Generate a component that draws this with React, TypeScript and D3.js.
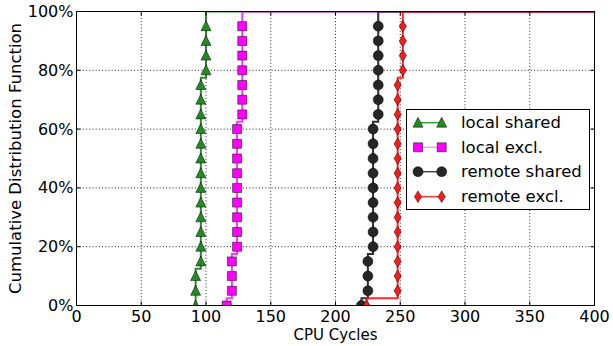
import React from 'react';
import * as d3 from 'd3';

const W = 613;
const H = 346;
const plot = { left: 76.5, right: 594.5, top: 11.5, bottom: 305.5 };

// sampled CDF levels (one marker per level)
const cdfLevels = [0, 0.05, 0.1, 0.15, 0.2, 0.25, 0.3, 0.35, 0.4, 0.45, 0.5, 0.55, 0.6, 0.65, 0.7, 0.75, 0.8, 0.85, 0.9, 0.95];

// CPU cycles at each level
const localShared = [92, 92, 92, 96, 96, 96, 96, 96, 96, 96, 96, 96, 96, 96, 96, 96, 100, 100, 100, 100];
const localExcl = [116, 120, 120, 120, 124, 124, 124, 124, 124, 124, 124, 124, 124, 128, 128, 128, 128, 128, 128, 128];
const remoteShared = [220, 225, 225, 225, 229, 229, 229, 229, 229, 229, 229, 229, 229, 233, 233, 233, 233, 233, 233, 233];
const remoteExcl = [224, 248, 248, 248, 248, 248, 248, 248, 248, 248, 248, 248, 248, 248, 248, 248, 252, 252, 252, 252];

const xTicks = [0, 50, 100, 150, 200, 250, 300, 350, 400];
const yTicks = [0, 0.2, 0.4, 0.6, 0.8, 1.0];

type Marker = 'triangle' | 'square' | 'circle' | 'diamond';

const series: { name: string; values: number[]; fill: string; line: string; legendLine: string; marker: Marker }[] = [
  { name: 'local shared', values: localShared, fill: '#228b22', line: '#1f7a1f', legendLine: '#33a033', marker: 'triangle' },
  { name: 'local excl.', values: localExcl, fill: '#ff00ff', line: '#ff22ff', legendLine: '#f59af5', marker: 'square' },
  { name: 'remote shared', values: remoteShared, fill: '#262626', line: '#1a1a1a', legendLine: '#444', marker: 'circle' },
  { name: 'remote excl.', values: remoteExcl, fill: '#ff1a1a', line: '#ff1010', legendLine: '#f04040', marker: 'diamond' },
];

function markerPath(type: Marker): string {
  switch (type) {
    case 'triangle':
      return 'M0,-5.5L5,4.5L-5,4.5Z';
    case 'square':
      return 'M-4.5,-4.5H4.5V4.5H-4.5Z';
    case 'circle':
      return 'M5,0A5,5 0 1 1 -5,0A5,5 0 1 1 5,0Z';
    default:
      return 'M0,-5.8L3.6,0L0,5.8L-3.6,0Z';
  }
}

const font = 'DejaVu Sans, sans-serif';

export default function App() {
  const x = d3.scaleLinear().domain([0, 400]).range([plot.left, plot.right]);
  const y = d3.scaleLinear().domain([0, 1]).range([plot.bottom, plot.top]);
  const line = d3.line<[number, number]>().x(d => x(d[0])).y(d => y(d[1]));

  // step path: rise to the midpoint between samples, then move across
  const stepPoints = (vals: number[]): [number, number][] => {
    const pts: [number, number][] = [[vals[0], cdfLevels[0]]];
    for (let i = 1; i < vals.length; i++) {
      const mid = (cdfLevels[i - 1] + cdfLevels[i]) / 2;
      if (vals[i] !== vals[i - 1]) {
        pts.push([vals[i - 1], mid]);
        pts.push([vals[i], mid]);
      }
      pts.push([vals[i], cdfLevels[i]]);
    }
    const last = vals[vals.length - 1];
    pts.push([last, 1]);
    pts.push([400, 1]);
    return pts;
  };

  const legend = { x: 406.5, y: 109.5, w: 183, h: 100 };
  const rowY = [122.7, 147.3, 171.7, 196.7];

  return (
    <svg width={W} height={H} style={{ position: 'absolute', left: 0, top: 0, background: '#fff' }}>
      <defs>
        <clipPath id="plotClip">
          <rect x={plot.left} y={plot.top} width={plot.right - plot.left} height={plot.bottom - plot.top} />
        </clipPath>
      </defs>
      <rect x={0} y={0} width={W} height={H} fill="#fff" />

      {/* grid */}
      <g stroke="#222" strokeWidth={1} strokeDasharray="1,2.2">
        {xTicks.slice(1, -1).map(t => (
          <line key={'gx' + t} x1={x(t)} x2={x(t)} y1={plot.top} y2={plot.bottom} />
        ))}
        {yTicks.slice(1, -1).map(t => (
          <line key={'gy' + t} x1={plot.left} x2={plot.right} y1={y(t)} y2={y(t)} />
        ))}
      </g>

      {/* series */}
      <g clipPath="url(#plotClip)">
        {series.map(s => (
          <g key={s.name}>
            <path d={line(stepPoints(s.values)) || ''} fill="none" stroke={s.line} strokeWidth={2} strokeOpacity={0.9} />
            {s.values.map((v, i) => (
              <path
                key={i}
                d={markerPath(s.marker)}
                transform={`translate(${x(v)},${y(cdfLevels[i])})`}
                fill={s.fill}
                stroke="#000"
                strokeOpacity={0.5}
                strokeWidth={1}
              />
            ))}
          </g>
        ))}
      </g>

      {/* frame */}
      <rect x={plot.left} y={plot.top} width={plot.right - plot.left} height={plot.bottom - plot.top} fill="none" stroke="#000" strokeWidth={1} />

      {/* ticks (inward, all four sides) */}
      <g stroke="#000" strokeWidth={1}>
        {xTicks.map(t => (
          <g key={'tx' + t}>
            <line x1={x(t)} x2={x(t)} y1={plot.bottom} y2={plot.bottom - 4} />
            <line x1={x(t)} x2={x(t)} y1={plot.top} y2={plot.top + 4} />
          </g>
        ))}
        {yTicks.map(t => (
          <g key={'ty' + t}>
            <line x1={plot.left} x2={plot.left + 4} y1={y(t)} y2={y(t)} />
            <line x1={plot.right} x2={plot.right - 4} y1={y(t)} y2={y(t)} />
          </g>
        ))}
      </g>

      {/* tick labels */}
      <g fontFamily={font} fontSize={16} fill="#000">
        {xTicks.map(t => (
          <text key={'lx' + t} x={x(t)} y={321.5} textAnchor="middle">{t}</text>
        ))}
        {yTicks.map(t => (
          <text key={'ly' + t} x={73.5} y={y(t)} textAnchor="end" dominantBaseline="central">{d3.format('.0%')(t)}</text>
        ))}
      </g>

      {/* axis labels */}
      <text x={(plot.left + plot.right) / 2} y={340} textAnchor="middle" fontFamily={font} fontSize={15} fill="#000">CPU Cycles</text>
      <text
        transform={`translate(21,${(plot.top + plot.bottom) / 2}) rotate(-90)`}
        textAnchor="middle"
        fontFamily={font}
        fontSize={16.5}
        fill="#000"
      >
        Cumulative Distribution Function
      </text>

      {/* legend */}
      <g>
        <rect x={legend.x} y={legend.y} width={legend.w} height={legend.h} fill="#fff" stroke="#000" strokeWidth={1} />
        {series.map((s, i) => (
          <g key={'lg' + s.name}>
            <line x1={418} x2={441.7} y1={rowY[i]} y2={rowY[i]} stroke={s.legendLine} strokeWidth={1.5} />
            {[418, 441.7].map(px => (
              <path
                key={px}
                d={markerPath(s.marker)}
                transform={`translate(${px},${rowY[i]})`}
                fill={s.fill}
                stroke="#000"
                strokeOpacity={0.5}
                strokeWidth={1}
              />
            ))}
            <text x={461} y={rowY[i]} dominantBaseline="central" fontFamily={font} fontSize={16.5} fill="#000">{s.name}</text>
          </g>
        ))}
      </g>
    </svg>
  );
}
